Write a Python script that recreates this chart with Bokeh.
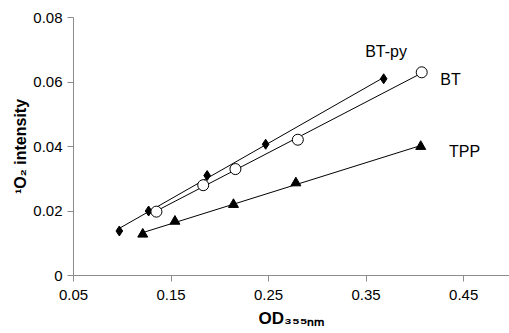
import numpy as np
from bokeh.plotting import figure
from bokeh.models import Label, FixedTicker, Range1d
from bokeh.embed import file_html
from bokeh.resources import INLINE

# ---- data ----
btpy_x = [0.097, 0.127, 0.187, 0.247, 0.368]
btpy_y = [0.0138, 0.0200, 0.0310, 0.0407, 0.0610]

bt_x = [0.135, 0.183, 0.216, 0.280, 0.407]
bt_y = [0.0198, 0.0280, 0.0330, 0.0421, 0.0630]

tpp_x = [0.121, 0.154, 0.214, 0.278, 0.406]
tpp_y = [0.0128, 0.0168, 0.0220, 0.0287, 0.0400]

x_ticks = [0.05, 0.15, 0.25, 0.35, 0.45]
y_ticks = [0, 0.02, 0.04, 0.06, 0.08]

series_names = ["BT-py", "BT", "TPP"]
x_title = "OD₃₅₅ₙₘ"
y_title = "¹O₂ intensity"

FONT = "Liberation Sans"

p = figure(width=509, height=333, output_backend="svg", toolbar_location=None,
           x_range=Range1d(0.05, 0.497), y_range=Range1d(0, 0.08),
           min_border_left=73, min_border_right=0, min_border_top=17, min_border_bottom=58)
p.outline_line_color = None
p.xgrid.visible = False
p.ygrid.visible = False

for ax in (p.xaxis[0], p.yaxis[0]):
    ax.axis_line_color = "#8c8c8c"
    ax.major_tick_line_color = "#8c8c8c"
    ax.minor_tick_line_color = None
    ax.major_tick_in = 0
    ax.major_tick_out = 6
    ax.major_label_text_font = FONT
    ax.major_label_text_font_size = "15px"
    ax.major_label_text_color = "#000000"
    ax.axis_label_text_font = FONT
    ax.axis_label_text_font_style = "bold"
    ax.axis_label_text_color = "#000000"

p.xaxis.ticker = FixedTicker(ticks=x_ticks)
p.yaxis.ticker = FixedTicker(ticks=y_ticks)
p.xaxis.major_label_standoff = 8
p.yaxis.major_label_standoff = 5
p.yaxis.major_label_overrides = {0: "0"}

p.xaxis.axis_label = x_title
p.xaxis.axis_label_text_font_size = "17px"
p.xaxis.axis_label_standoff = 6
p.yaxis.axis_label = y_title
p.yaxis.axis_label_text_font_size = "16px"
p.yaxis.axis_label_standoff = 1

# trend lines (least squares through each series)
for xs, ys in ((btpy_x, btpy_y), (bt_x, bt_y), (tpp_x, tpp_y)):
    k, b = np.polyfit(xs, ys, 1)
    lx = [min(xs), max(xs)]
    p.line(lx, [k * v + b for v in lx], line_color="black", line_width=1)

p.scatter(btpy_x, btpy_y, marker="diamond", size=10, fill_color="black", line_color="black")
p.scatter(bt_x, bt_y, marker="circle", size=11, fill_color="white", line_color="black", line_width=1)
p.scatter(tpp_x, tpp_y, marker="triangle", size=10, fill_color="black", line_color="black")

# series labels
lab_pos = [(0.349, 0.0694), (0.426, 0.0609), (0.435, 0.0383)]
for name, (lx, ly) in zip(series_names, lab_pos):
    p.add_layout(Label(x=lx, y=ly, text=name, text_font=FONT, text_font_size="16px",
                       text_color="black", text_baseline="alphabetic"))

open("out.html", "w").write(file_html(p, INLINE))
